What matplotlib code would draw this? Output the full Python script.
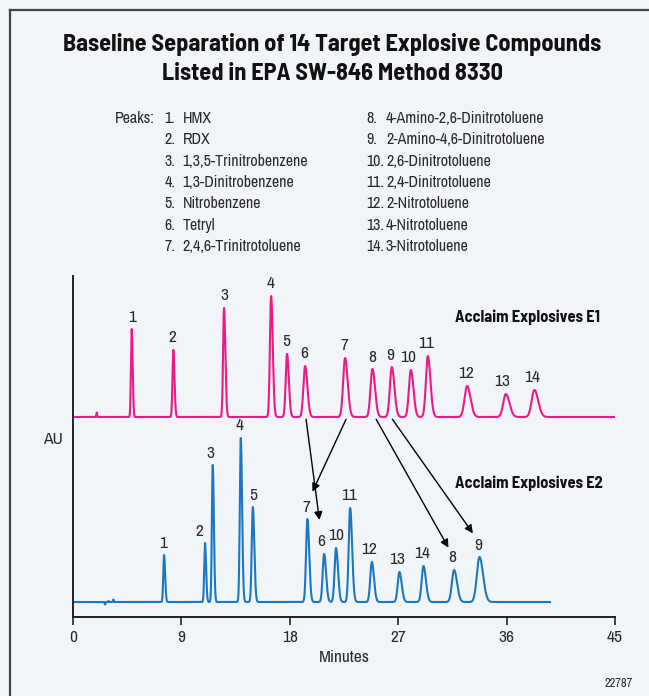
import numpy as np
import matplotlib
matplotlib.use("Agg")
import matplotlib.pyplot as plt
from matplotlib.lines import Line2D

plt.rcParams['font.family'] = ['Archivo Narrow', 'DejaVu Sans']
BOLD_FAMILY = ['Barlow Semi Condensed', 'DejaVu Sans']

# ---------------------------------------------------------------- data
peak_numbers = list(range(1, 15))
peak_names = [
    "HMX", "RDX", "1,3,5-Trinitrobenzene", "1,3-Dinitrobenzene",
    "Nitrobenzene", "Tetryl", "2,4,6-Trinitrotoluene",
    "4-Amino-2,6-Dinitrotoluene", "2-Amino-4,6-Dinitrotoluene",
    "2,6-Dinitrotoluene", "2,4-Dinitrotoluene", "2-Nitrotoluene",
    "4-Nitrotoluene", "3-Nitrotoluene",
]

# Acclaim Explosives E1: retention time (min), height (AU, arbitrary), sigma (min)
e1_times = [4.87, 8.33, 12.54, 16.45, 17.77, 19.27, 22.59,
            24.86, 26.47, 28.05, 29.46, 32.72, 35.94, 38.31]
e1_heights = [88, 67, 109, 121, 63, 51, 59, 48, 50, 47, 61, 31, 23, 27]
e1_sigmas = [0.06, 0.07, 0.08, 0.10, 0.11, 0.14, 0.16,
             0.16, 0.16, 0.16, 0.16, 0.21, 0.22, 0.23]
e1_end = 45.0
e1_blips_t = [1.97]
e1_blips_h = [4.5]

# Acclaim Explosives E2 (listed by peak number)
e2_times = [7.56, 10.96, 11.60, 13.93, 14.93, 20.85, 19.46,
            31.64, 33.75, 21.84, 23.01, 24.81, 27.10, 29.10]
e2_heights = [47, 59, 137, 164, 95, 48, 83, 32, 45, 54, 94, 40, 30, 36]
e2_sigmas = [0.065, 0.065, 0.07, 0.08, 0.09, 0.12, 0.11,
             0.18, 0.22, 0.12, 0.12, 0.13, 0.14, 0.15]
e2_end = 39.6
e2_blips_t = [2.66, 2.95, 3.35]
e2_blips_h = [-2.5, 1.0, 2.5]

x_ticks = [0, 9, 18, 27, 36, 45]

# ---------------------------------------------------------------- style
W, H = 649, 696
BG = '#F1F4F9'
PINK = '#EA1A8A'
BLUE = '#1C77C3'
TXT = '#2a2a2a'
E1_BASE = 200.0
E2_BASE = 15.0
TAIL = 1.35
FS = 12.5


def fx(px):
    return px / W


def fy(py):
    return 1 - py / H


def trace(times, heights, sigmas, blip_t, blip_h, t_end, base):
    t = np.arange(0.0, t_end + 1e-9, 0.004)
    y = np.full_like(t, base)
    for tr, h, s in zip(times, heights, sigmas):
        sl = np.where(t < tr, s, s * TAIL)
        y += h * np.exp(-0.5 * ((t - tr) / sl) ** 2)
    for tr, h in zip(blip_t, blip_h):
        y += h * np.exp(-0.5 * ((t - tr) / 0.03) ** 2)
    return t, y


fig = plt.figure(figsize=(W / 100, H / 100), dpi=100, facecolor=BG)

# frame lines along top and left edges
fig.add_artist(Line2D([fx(10), 1], [fy(10), fy(10)], color='#444444', lw=1.6,
                      transform=fig.transFigure))
fig.add_artist(Line2D([fx(10), fx(10)], [fy(10), 0], color='#444444', lw=1.6,
                      transform=fig.transFigure))

# titles
fig.text(fx(332), fy(45), "Baseline Separation of 14 Target Explosive Compounds",
         ha='center', va='center', fontsize=17.5, fontweight='bold', color='#111111',
         family=BOLD_FAMILY)
fig.text(fx(332), fy(73.5), "Listed in EPA SW-846 Method 8330",
         ha='center', va='center', fontsize=17.5, fontweight='bold', color='#111111',
         family=BOLD_FAMILY)

# peak list
fig.text(fx(115), fy(118.3), "Peaks:", ha='left', va='center', fontsize=11.5, color=TXT)
for i, (num, name) in enumerate(zip(peak_numbers, peak_names)):
    row = i % 7
    yy = fy(118.3 + 21.4 * row)
    if i < 7:
        num_x, name_x = 164.3, 182.7
    else:
        num_x, name_x = 366.0, 386.0
    fig.text(fx(num_x), yy, f"{num}.", ha='left', va='center', fontsize=11.5, color=TXT)
    fig.text(fx(name_x), yy, name, ha='left', va='center', fontsize=11.5, color=TXT)

# axes
ax = fig.add_axes([fx(73), fy(617), (615 - 73) / W, (617 - 276) / H])
ax.set_facecolor(BG)
ax.set_xlim(0, 45)
ax.set_ylim(0, 341)
for s in ('top', 'right'):
    ax.spines[s].set_visible(False)
for s in ('left', 'bottom'):
    ax.spines[s].set_color('#222222')
    ax.spines[s].set_linewidth(1.4)
ax.set_yticks([])
ax.set_xticks(x_ticks)
ax.set_xticklabels([str(v) for v in x_ticks])
ax.tick_params(axis='x', direction='out', length=5.5, width=1.2, color='#222222',
               labelsize=FS, labelcolor=TXT, pad=3.5)
ax.set_xlabel("Minutes", fontsize=FS, color=TXT, labelpad=4)

t1, y1 = trace(e1_times, e1_heights, e1_sigmas, e1_blips_t, e1_blips_h, e1_end, E1_BASE)
t2, y2 = trace(e2_times, e2_heights, e2_sigmas, e2_blips_t, e2_blips_h, e2_end, E2_BASE)
ax.plot(t1, y1, color=PINK, lw=1.5, solid_joinstyle='round')
ax.plot(t2, y2, color=BLUE, lw=1.5, solid_joinstyle='round')

# peak number labels
e1_dx = {1: 0, 2: -1, 3: 0, 4: -1, 5: -1, 6: -1, 7: -1, 8: 0, 9: -2, 10: -2.5,
         11: -1.5, 12: -1, 13: -3.5, 14: -2.5}
e2_dx = {1: -1, 2: -5.5, 3: -2, 4: -1, 5: 0, 6: -3, 7: -1, 8: -1.5, 9: -1,
         10: 0, 11: -1, 12: -3, 13: -2, 14: -1.5}
for num, tr, h in zip(peak_numbers, e1_times, e1_heights):
    ax.annotate(str(num), (tr, E1_BASE + h), xytext=(e1_dx[num], 12),
                textcoords='offset pixels', ha='center', va='center',
                fontsize=FS, color=TXT, annotation_clip=False)
for num, tr, h in zip(peak_numbers, e2_times, e2_heights):
    ax.annotate(str(num), (tr, E2_BASE + h), xytext=(e2_dx[num], 12),
                textcoords='offset pixels', ha='center', va='center',
                fontsize=FS, color=TXT, annotation_clip=False)

# arrows linking the moved peaks between the two columns
arrows = [((19.35, 197.7), (20.46, 97.0)),
          ((22.67, 197.7), (19.88, 125.3)),
          ((25.17, 197.7), (31.17, 69.3)),
          ((26.52, 197.7), (33.20, 83.7))]
for start, end in arrows:
    ax.annotate('', xy=end, xytext=start,
                arrowprops=dict(arrowstyle='-|>', color='black', lw=1.0,
                                mutation_scale=12, shrinkA=0, shrinkB=0))

# column names and axis caption
fig.text(fx(455), fy(317), "Acclaim Explosives E1", ha='left', va='center',
         fontsize=11.8, fontweight='bold', color='#111111', family=BOLD_FAMILY)
fig.text(fx(455), fy(483.3), "Acclaim Explosives E2", ha='left', va='center',
         fontsize=11.8, fontweight='bold', color='#111111', family=BOLD_FAMILY)
fig.text(fx(53.3), fy(440), "AU", ha='center', va='center', fontsize=FS, color=TXT)
fig.text(fx(632.5), fy(683.5), "22787", ha='right', va='center', fontsize=9, color=TXT)

fig.savefig("out.png", dpi=100, facecolor=BG)
